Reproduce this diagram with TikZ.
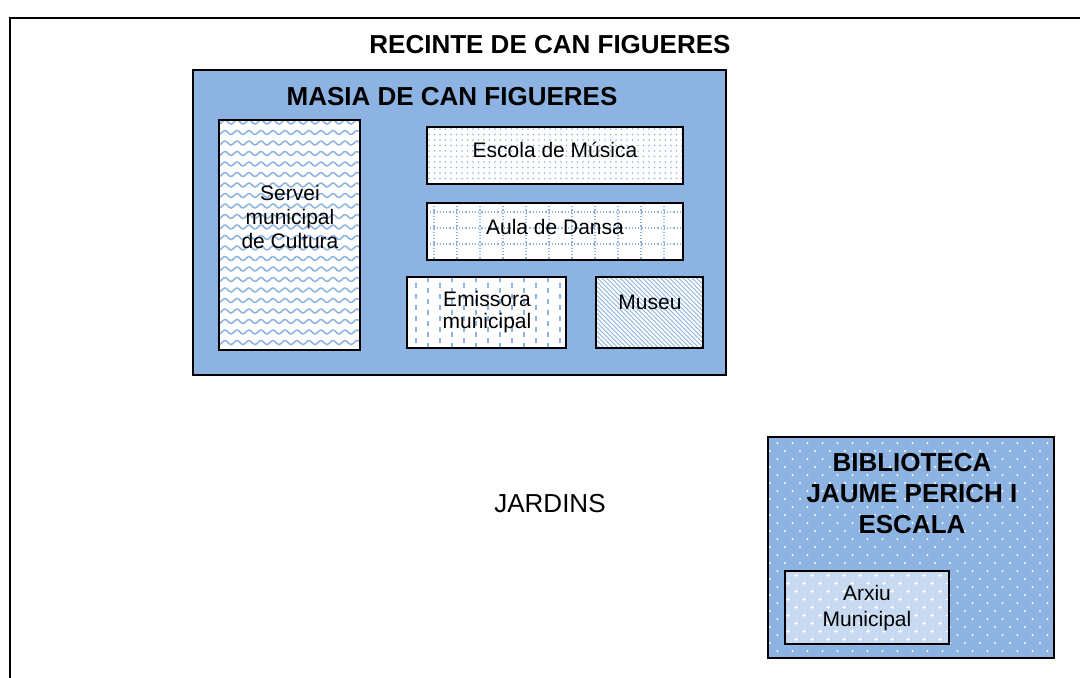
\documentclass[tikz,border=0pt]{standalone}
\usepackage{fontspec}
\setmainfont{Liberation Sans}
\definecolor{masiablue}{RGB}{141,179,226}
\definecolor{patblue}{RGB}{141,179,226}
\definecolor{paleblue}{RGB}{200,218,241}
\tikzset{
  boxline/.style={draw=black, line width=2pt},
  titletext/.style={font=\fontsize{26}{31}\selectfont\bfseries, align=center, inner sep=0pt},
  bodytext/.style={font=\fontsize{21}{24}\selectfont, align=center, inner sep=0pt},
  patline/.style={draw=patblue, line width=1.2pt},
}
\begin{document}
\begin{tikzpicture}[x=1pt,y=-1pt]
\useasboundingbox (0,0) rectangle (1080,678);
\fill[white] (0,0) rectangle (1080,678);
% outer frame (extends beyond page)
\draw[line width=2.5pt] (10,690) -- (10,18) -- (1090,18);
\node[titletext] (recinte) at (550,45) {RECINTE DE CAN FIGUERES};

% Masia
\fill[masiablue] (193,70) rectangle (726,375);
\draw[boxline] (193,70) rectangle (726,375);
\node[titletext] (masia) at (452,97) {MASIA DE CAN FIGUERES};

% Servei: waves
\fill[white] (219,120) rectangle (360,350);
\begin{scope}
\clip (219,120) rectangle (360,350);
\foreach \yy in {122,132.5,...,356}{
  \draw[patline, line width=1.5pt] plot[variable=\t, domain=214:366, samples=90] (\t,{\yy+2*sin(30*\t)});
}
\end{scope}
\draw[boxline] (219,120) rectangle (360,350);
\node[bodytext] (servei) at (290,217) {Servei\\municipal\\de Cultura};

% Escola: dots
\fill[white] (427,127) rectangle (683,184);
\begin{scope}
\clip (427,127) rectangle (683,184);
\foreach \yy in {129,134.5,...,184}{
  \foreach \xx in {429,434.5,...,684}{
    \fill[patblue] (\xx,\yy) circle (0.85);
  }
}
\end{scope}
\draw[boxline] (427,127) rectangle (683,184);
\node[bodytext] (escola) at (555,150) {Escola de Música};

% Aula: dotted grid
\fill[white] (427,203) rectangle (683,260);
\begin{scope}
\clip (427,203) rectangle (683,260);
\foreach \xx in {434,457,...,690}{
  \draw[patline, dotted] (\xx,203) -- (\xx,260);
}
\foreach \yy in {212,228,244}{
  \draw[patline, dotted] (427,\yy) -- (683,\yy);
}
\end{scope}
\draw[boxline] (427,203) rectangle (683,260);
\node[bodytext] (aula) at (555,227) {Aula de Dansa};

% Emissora: vertical dashed lines
\fill[white] (407,277) rectangle (566,348);
\begin{scope}
\clip (407,277) rectangle (566,348);
\foreach \xx [count=\i] in {416,428,...,566}{
  \pgfmathsetmacro{\off}{mod(\i,2)*5}
  \draw[patline, line width=1.5pt, dash pattern=on 5pt off 6pt, dash phase=\off pt] (\xx,277) -- (\xx,350);
}
\end{scope}
\draw[boxline] (407,277) rectangle (566,348);
\node[bodytext, font=\fontsize{21}{22}\selectfont] (emissora) at (487,312) {Emissora\\municipal};

% Museu: diagonal lines
\fill[white] (596,277) rectangle (703,348);
\begin{scope}
\clip (596,277) rectangle (703,348);
\foreach \xx in {520,524.5,...,706}{
  \draw[patline, line width=1pt] (\xx,277) -- (\xx+75,352);
}
\end{scope}
\draw[boxline] (596,277) rectangle (703,348);
\node[bodytext] (museu) at (650,302) {Museu};

% Jardins
\node[bodytext, font=\fontsize{26}{30}\selectfont] (jardins) at (550,504) {JARDINS};

% Biblioteca
\fill[masiablue] (768,437) rectangle (1054,658);
\begin{scope}
\clip (768,437) rectangle (1054,658);
\foreach \yy [count=\i] in {443,451,...,660}{
  \pgfmathsetmacro{\off}{mod(\i,2)*7.5}
  \foreach \xx in {770,785,...,1060}{
    \fill[white] (\xx+\off,\yy) circle (1.1);
  }
}
\end{scope}
\draw[boxline, line width=2.5pt] (768,437) rectangle (1054,658);
\node[titletext] (biblio) at (912,494) {BIBLIOTECA\\JAUME PERICH I\\ESCALA};

% Arxiu
\fill[paleblue] (785,571) rectangle (949,644);
\begin{scope}
\clip (785,571) rectangle (949,644);
\foreach \yy [count=\i] in {575,583,...,648}{
  \pgfmathsetmacro{\off}{mod(\i,2)*8}
  \foreach \xx in {788,804,...,955}{
    \fill[white] (\xx+\off-1.6,\yy-0.5) rectangle (\xx+\off+1.6,\yy+0.5);
    \fill[white] (\xx+\off-0.5,\yy-1.6) rectangle (\xx+\off+0.5,\yy+1.6);
  }
}
\end{scope}
\draw[boxline] (785,571) rectangle (949,644);
\node[bodytext, font=\fontsize{21}{26}\selectfont] (arxiu) at (867,608) {Arxiu\\Municipal};
\end{tikzpicture}
\end{document}
